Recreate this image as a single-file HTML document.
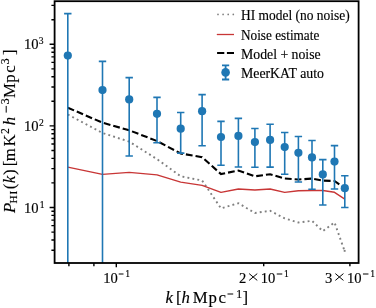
<!DOCTYPE html>
<html><head><meta charset="utf-8"><style>
html,body{margin:0;padding:0;background:#fff;width:376px;height:308px;overflow:hidden}
svg{display:block;filter:blur(0.35px)}
text{font-family:"Liberation Serif",serif;fill:#000;stroke:#000;stroke-width:0.15px}
</style></head><body>
<svg width="376" height="308" viewBox="0 0 376 308"><defs><clipPath id="ax"><rect x="54.6" y="1.2" width="304.0" height="261.8"/></clipPath></defs>
<g clip-path="url(#ax)">
<polyline points="67.8,114.5 102.5,133.0 129.2,141.6 157.0,159.1 180.7,176.3 202.1,180.5 221.0,208.4 238.4,203.2 254.9,213.0 270.1,210.8 284.7,218.4 298.4,222.5 312.0,220.8 322.8,231.2 334.5,222.4 344.8,251.6" fill="none" stroke="#808080" stroke-width="1.9" stroke-dasharray="1.9 3.15"/>
<rect x="343.7" y="249.9" width="1.9" height="1.9" fill="#808080"/>
<polyline points="67.8,167.1 102.5,174.4 129.2,172.4 157.0,174.9 180.7,182.1 202.1,185.4 221.0,192.4 238.4,189.0 254.9,190.0 270.1,189.0 284.7,192.4 298.4,190.8 312.0,190.5 322.8,190.5 334.5,192.3 344.8,199.1" fill="none" stroke="#c83636" stroke-width="1.4" stroke-linejoin="round"/>
<polyline points="67.8,107.7 102.5,122.7 129.2,130.3 157.0,141.0 180.7,153.5 202.1,157.2 221.0,174.1 238.4,170.5 254.9,176.3 270.1,174.2 284.7,178.5 298.4,179.5 312.0,178.6 322.8,180.6 334.5,181.0 344.8,188.4" fill="none" stroke="#000" stroke-width="2.1" stroke-dasharray="6.8 3.0"/>
<path d="M67.8,13.6V268.0M64.1,13.6H71.5M102.5,61.4V268.0M98.8,61.4H106.2M129.2,77.6V156.0M125.5,77.6H132.9M125.5,156.0H132.9M157.0,97.4V142.8M153.3,97.4H160.7M153.3,142.8H160.7M180.7,112.5V153.1M177.0,112.5H184.4M177.0,153.1H184.4M202.1,94.6V145.8M198.4,94.6H205.8M198.4,145.8H205.8M221.0,121.4V165.3M217.3,121.4H224.7M217.3,165.3H224.7M238.4,118.4V167.0M234.7,118.4H242.1M234.7,167.0H242.1M254.9,128.5V167.3M251.2,128.5H258.6M251.2,167.3H258.6M270.1,124.3V167.1M266.4,124.3H273.8M266.4,167.1H273.8M284.7,132.5V174.2M281.0,132.5H288.4M281.0,174.2H288.4M298.4,136.5V182.0M294.7,136.5H302.1M294.7,182.0H302.1M312.0,140.5V189.2M308.3,140.5H315.7M308.3,189.2H315.7M322.8,159.6V205.0M319.1,159.6H326.5M319.1,205.0H326.5M334.5,145.6V189.0M330.8,145.6H338.2M330.8,189.0H338.2M344.8,175.7V207.5M341.1,175.7H348.5M341.1,207.5H348.5" fill="none" stroke="#1f77b4" stroke-width="1.6"/>
<circle cx="67.8" cy="55.6" r="4.1" fill="#1f77b4"/>
<circle cx="102.5" cy="90.1" r="4.1" fill="#1f77b4"/>
<circle cx="129.2" cy="99.4" r="4.1" fill="#1f77b4"/>
<circle cx="157.0" cy="113.8" r="4.1" fill="#1f77b4"/>
<circle cx="180.7" cy="128.7" r="4.1" fill="#1f77b4"/>
<circle cx="202.1" cy="111.2" r="4.1" fill="#1f77b4"/>
<circle cx="221.0" cy="137.0" r="4.1" fill="#1f77b4"/>
<circle cx="238.4" cy="135.9" r="4.1" fill="#1f77b4"/>
<circle cx="254.9" cy="142.1" r="4.1" fill="#1f77b4"/>
<circle cx="270.1" cy="139.9" r="4.1" fill="#1f77b4"/>
<circle cx="284.7" cy="147.1" r="4.1" fill="#1f77b4"/>
<circle cx="298.4" cy="152.8" r="4.1" fill="#1f77b4"/>
<circle cx="312.0" cy="157.4" r="4.1" fill="#1f77b4"/>
<circle cx="322.8" cy="174.4" r="4.1" fill="#1f77b4"/>
<circle cx="334.5" cy="161.6" r="4.1" fill="#1f77b4"/>
<circle cx="344.8" cy="188.2" r="4.1" fill="#1f77b4"/>
</g>
<rect x="54.6" y="1.2" width="304.0" height="261.8" fill="none" stroke="#000" stroke-width="1.8"/>
<path d="M68.9,263.0V266.2M93.9,263.0V266.2M116.3,263.0V267.3M263.7,263.0V266.2M349.9,263.0V266.2M54.6,250.2H51.4M54.6,240.0H51.4M54.6,232.1H51.4M54.6,225.6H51.4M54.6,220.1H51.4M54.6,215.4H51.4M54.6,211.2H51.4M54.6,207.5H49.6M54.6,182.9H51.4M54.6,168.6H51.4M54.6,158.4H51.4M54.6,150.5H51.4M54.6,144.0H51.4M54.6,138.5H51.4M54.6,133.8H51.4M54.6,129.6H51.4M54.6,125.9H49.6M54.6,101.3H51.4M54.6,87.0H51.4M54.6,76.8H51.4M54.6,68.9H51.4M54.6,62.4H51.4M54.6,56.9H51.4M54.6,52.2H51.4M54.6,48.0H51.4M54.6,44.3H49.6M54.6,19.7H51.4M54.6,5.4H51.4" stroke="#000" stroke-width="1.4" fill="none"/>
<text x="23.92" y="49.30" font-size="14.6">10</text>
<text x="38.74" y="44.30" font-size="9.6">3</text>
<text x="23.92" y="130.90" font-size="14.6">10</text>
<text x="39.08" y="125.90" font-size="9.6">2</text>
<text x="23.92" y="212.50" font-size="14.6">10</text>
<text x="39.76" y="207.50" font-size="9.6">1</text>
<text x="103.22" y="282.60" font-size="14.6">10</text>
<rect x="118.70" y="273.50" width="4.80" height="1.0" fill="#000"/>
<text x="125.36" y="277.40" font-size="9.6">1</text>
<text x="238.96" y="282.60" font-size="14.6">2</text>
<path d="M249.15,273.60L257.25,280.40M249.15,280.40L257.25,273.60" stroke="#000" stroke-width="1.0" fill="none"/>
<text x="260.82" y="282.60" font-size="14.6">10</text>
<rect x="276.75" y="273.50" width="5.50" height="1.0" fill="#000"/>
<text x="284.01" y="277.40" font-size="9.6">1</text>
<text x="325.10" y="282.60" font-size="14.6">3</text>
<path d="M335.35,273.60L343.45,280.40M335.35,280.40L343.45,273.60" stroke="#000" stroke-width="1.0" fill="none"/>
<text x="347.02" y="282.60" font-size="14.6">10</text>
<rect x="362.95" y="273.50" width="5.50" height="1.0" fill="#000"/>
<text x="370.21" y="277.40" font-size="9.6">1</text>
<text x="165.52" y="303.20" font-size="16.8" font-style="italic">k</text>
<text x="175.95" y="303.20" font-size="16.8">[</text>
<text x="181.39" y="303.20" font-size="16.8" font-style="italic">h</text>
<text x="192.72" y="303.20" font-size="16.8">M</text>
<text x="208.53" y="303.20" font-size="16.8">p</text>
<text x="218.56" y="303.20" font-size="16.8">c</text>
<text x="242.49" y="303.20" font-size="16.8">]</text>
<rect x="227.50" y="293.50" width="5.70" height="1.0" fill="#000"/>
<text x="236.17" y="297.50" font-size="11.7">1</text>
<g transform="translate(15.3,213.6) rotate(-90)">
<text x="0.49" y="0.00" font-size="16.8" font-style="italic">P</text>
<text x="10.07" y="2.10" font-size="11.3">H</text>
<text x="19.19" y="2.10" font-size="11.3">I</text>
<text x="24.36" y="0.00" font-size="16.8">(</text>
<text x="30.42" y="0.00" font-size="16.8" font-style="italic">k</text>
<text x="38.56" y="0.00" font-size="16.8">)</text>
<text x="47.25" y="0.00" font-size="16.8">[</text>
<text x="52.35" y="0.00" font-size="16.8">m</text>
<text x="67.22" y="0.00" font-size="16.8">K</text>
<text x="79.59" y="-6.40" font-size="11.7">2</text>
<text x="88.39" y="0.00" font-size="16.8" font-style="italic">h</text>
<rect x="101.00" y="-9.60" width="6.70" height="1" fill="#000"/>
<text x="109.24" y="-6.40" font-size="11.7">3</text>
<text x="115.72" y="0.00" font-size="16.8">M</text>
<text x="130.93" y="0.00" font-size="16.8">p</text>
<text x="140.76" y="0.00" font-size="16.8">c</text>
<text x="149.44" y="-6.40" font-size="11.7">3</text>
<text x="158.49" y="0.00" font-size="16.8">]</text>
</g>
<line x1="218" y1="14.4" x2="234" y2="14.4" stroke="#7f7f7f" stroke-width="1.7" stroke-dasharray="0 5.1" stroke-linecap="round"/>
<line x1="216.8" y1="34.5" x2="234" y2="34.5" stroke="#c83636" stroke-width="1.3"/>
<line x1="217.1" y1="53.0" x2="234" y2="53.0" stroke="#000" stroke-width="2.2" stroke-dasharray="7.2 2.6"/>
<path d="M225.6,65.3V79.5M222,65.3H229.2M222,79.5H229.2" stroke="#1f77b4" stroke-width="1.8" fill="none"/><circle cx="225.6" cy="72.4" r="4.3" fill="#1f77b4"/>
<text x="241.00" y="20.1" font-size="13.9" textLength="108.61" lengthAdjust="spacingAndGlyphs">HI model (no noise)</text>
<text x="241.00" y="39.5" font-size="13.9" textLength="78.28" lengthAdjust="spacingAndGlyphs">Noise estimate</text>
<text x="241.00" y="58.8" font-size="13.9" textLength="79.68" lengthAdjust="spacingAndGlyphs">Model + noise</text>
<text x="241.00" y="78.1" font-size="13.9" textLength="82.93" lengthAdjust="spacingAndGlyphs">MeerKAT auto</text></svg>
</body></html>
